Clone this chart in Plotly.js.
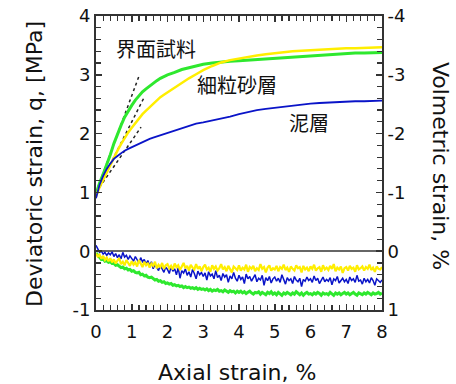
<!DOCTYPE html>
<html>
<head>
<meta charset="utf-8">
<script src="https://cdn.plot.ly/plotly-3.0.1.min.js"></script>
<style>html,body{margin:0;padding:0;background:#fff;}#chart{width:456px;height:384px;}</style>
</head>
<body>
<div id="chart"></div>
<script>
// Deviatoric strain q [MPa] vs axial strain (%)
const devX = [0, 0.05, 0.1, 0.2, 0.3, 0.4, 0.5, 0.6, 0.7, 0.8, 0.9, 1.0, 1.1, 1.2, 1.3, 1.4, 1.5, 1.6, 1.7, 1.8, 1.9, 2.0, 2.2, 2.4, 2.6, 2.8, 3.0, 3.25, 3.5, 3.75, 4.0, 4.25, 4.5, 4.75, 5.0, 5.25, 5.5, 5.75, 6.0, 6.25, 6.5, 6.75, 7.0, 7.25, 7.5, 7.75, 8.0];
const qInterface = [0.97, 1.07, 1.16, 1.31, 1.47, 1.64, 1.83, 2.00, 2.14, 2.28, 2.39, 2.48, 2.57, 2.64, 2.71, 2.76, 2.81, 2.86, 2.90, 2.94, 2.97, 3.00, 3.04, 3.09, 3.12, 3.15, 3.18, 3.20, 3.22, 3.23, 3.24, 3.25, 3.26, 3.27, 3.29, 3.30, 3.31, 3.32, 3.33, 3.34, 3.35, 3.35, 3.36, 3.37, 3.37, 3.38, 3.38];
const qFineSand = [0.93, 1.02, 1.09, 1.21, 1.34, 1.47, 1.59, 1.71, 1.82, 1.93, 2.02, 2.10, 2.18, 2.26, 2.33, 2.39, 2.45, 2.51, 2.57, 2.62, 2.66, 2.70, 2.79, 2.87, 2.94, 3.01, 3.08, 3.15, 3.21, 3.25, 3.28, 3.31, 3.33, 3.35, 3.37, 3.39, 3.40, 3.41, 3.42, 3.43, 3.44, 3.44, 3.45, 3.45, 3.46, 3.46, 3.47];
const qMud = [0.90, 1.02, 1.13, 1.28, 1.40, 1.49, 1.57, 1.62, 1.67, 1.71, 1.74, 1.77, 1.80, 1.83, 1.86, 1.89, 1.91, 1.93, 1.95, 1.97, 1.99, 2.01, 2.05, 2.09, 2.13, 2.17, 2.19, 2.22, 2.26, 2.29, 2.33, 2.37, 2.40, 2.42, 2.44, 2.46, 2.48, 2.50, 2.51, 2.52, 2.53, 2.54, 2.54, 2.55, 2.55, 2.56, 2.56];

// Volumetric strain (%), sampled every 0.05 % axial strain from 0 to 8
const volInterface = [
 0.03,0.07,0.10,0.14,0.13,0.17,0.16,0.19,0.18,0.21,
 0.21,0.24,0.23,0.26,0.28,0.27,0.30,0.29,0.32,0.31,
 0.34,0.33,0.36,0.37,0.36,0.40,0.39,0.42,0.41,0.44,
 0.45,0.44,0.47,0.49,0.48,0.51,0.50,0.53,0.52,0.55,
 0.54,0.56,0.55,0.58,0.57,0.59,0.58,0.60,0.59,0.62,
 0.60,0.62,0.61,0.63,0.62,0.64,0.62,0.65,0.63,0.65,
 0.64,0.66,0.64,0.67,0.65,0.68,0.66,0.67,0.65,0.68,
 0.67,0.69,0.66,0.68,0.70,0.67,0.69,0.68,0.71,0.68,
 0.70,0.68,0.71,0.69,0.72,0.70,0.68,0.71,0.73,0.70,
 0.71,0.69,0.73,0.70,0.72,0.74,0.70,0.72,0.69,0.73,
 0.71,0.74,0.70,0.72,0.75,0.71,0.73,0.70,0.72,0.74,
 0.71,0.73,0.69,0.72,0.74,0.71,0.75,0.72,0.70,0.73,
 0.72,0.74,0.71,0.73,0.70,0.72,0.75,0.71,0.73,0.72,
 0.74,0.70,0.72,0.75,0.71,0.73,0.71,0.74,0.72,0.70,
 0.73,0.71,0.74,0.72,0.70,0.73,0.75,0.71,0.72,0.74,
 0.71,0.73,0.70,0.72,0.74,0.71,0.73,0.72,0.70,0.73,
 0.71];
const volFineSand = [
 0.04,0.09,0.06,0.13,0.08,0.15,0.11,0.17,0.12,0.19,
 0.14,0.21,0.16,0.12,0.22,0.18,0.24,0.15,0.20,0.25,
 0.17,0.23,0.19,0.26,0.15,0.22,0.27,0.18,0.24,0.20,
 0.28,0.21,0.25,0.18,0.29,0.23,0.27,0.20,0.30,0.24,
 0.22,0.29,0.25,0.31,0.21,0.27,0.24,0.32,0.26,0.20,
 0.29,0.25,0.33,0.23,0.28,0.31,0.22,0.30,0.26,0.34,
 0.27,0.23,0.31,0.28,0.35,0.24,0.30,0.26,0.33,0.29,
 0.22,0.31,0.27,0.34,0.25,0.30,0.36,0.26,0.29,0.32,
 0.24,0.33,0.28,0.31,0.23,0.35,0.27,0.30,0.25,0.34,
 0.29,0.32,0.22,0.30,0.27,0.36,0.28,0.24,0.33,0.29,
 0.31,0.25,0.34,0.27,0.30,0.23,0.32,0.28,0.35,0.26,
 0.30,0.33,0.24,0.29,0.27,0.36,0.25,0.31,0.28,0.34,
 0.26,0.30,0.23,0.33,0.29,0.27,0.35,0.24,0.31,0.28,
 0.32,0.25,0.30,0.22,0.34,0.28,0.31,0.26,0.37,0.29,
 0.27,0.33,0.25,0.30,0.28,0.35,0.24,0.31,0.29,0.26,
 0.33,0.27,0.30,0.23,0.32,0.28,0.35,0.26,0.30,0.31,
 0.27];
const volMud = [
 -0.10,-0.03,0.02,0.00,0.05,0.02,0.07,0.03,0.06,0.01,
 0.09,0.04,0.11,0.06,0.13,0.02,0.10,0.07,0.14,0.08,
 0.12,0.17,0.09,0.15,0.20,0.11,0.18,0.14,0.22,0.16,
 0.25,0.18,0.30,0.22,0.27,0.33,0.24,0.29,0.36,0.27,
 0.31,0.38,0.26,0.34,0.30,0.40,0.28,0.46,0.33,0.37,
 0.30,0.41,0.35,0.44,0.31,0.38,0.47,0.34,0.40,0.36,
 0.43,0.37,0.49,0.35,0.42,0.39,0.47,0.33,0.45,0.41,
 0.50,0.38,0.44,0.40,0.53,0.42,0.47,0.36,0.46,0.51,
 0.41,0.48,0.44,0.55,0.39,0.47,0.43,0.51,0.45,0.40,
 0.52,0.46,0.49,0.41,0.58,0.45,0.50,0.43,0.54,0.47,
 0.44,0.51,0.46,0.53,0.40,0.49,0.56,0.45,0.50,0.47,
 0.55,0.43,0.49,0.52,0.46,0.60,0.48,0.51,0.44,0.50,
 0.47,0.53,0.42,0.50,0.46,0.55,0.49,0.44,0.52,0.48,
 0.51,0.45,0.57,0.47,0.50,0.43,0.54,0.49,0.46,0.52,
 0.48,0.55,0.44,0.50,0.47,0.53,0.41,0.51,0.49,0.56,
 0.46,0.52,0.48,0.54,0.45,0.50,0.58,0.47,0.51,0.53,
 0.49];
const volStep = 0.05;
const volX = volMud.map((_, i) => +(i * volStep).toFixed(2));

// Initial tangent lines (dotted)
const tan1X = [0, 1.21], tan1Y = [1.0, 2.99];
const tan2X = [0, 1.35], tan2Y = [1.0, 2.62];
const tan3X = [0, 1.26], tan3Y = [1.0, 2.11];

const leftTickVals = [-1, 0, 1, 2, 3, 4];
const leftTickText = ["-1", "0", "1", "2", "3", "4"];
const rightTickVals = [-4, -3, -2, -1, 0, 1];
const rightTickText = ["-4", "-3", "-2", "-1", "0", "1"];
const xTickVals = [0, 1, 2, 3, 4, 5, 6, 7, 8];
const xTickText = ["0", "1", "2", "3", "4", "5", "6", "7", "8"];

const xTitle = "Axial strain, %";
const yTitle = "Deviatoric strain, q, [MPa]";
const y2Title = "Volmetric strain, %";

const labels = [
  {text: "界面試料", x: 1.69, y: 3.44},
  {text: "細粒砂層", x: 3.95, y: 2.84},
  {text: "泥層", x: 5.97, y: 2.19}
];

const GREEN = "#2ee82e", YELLOW = "#ffee00", BLUE = "#0a14c8";
const AX = "#333333";

const traces = [
  {x: tan1X, y: tan1Y, mode: "lines", line: {color: "#222", width: 1.5, dash: "dot"}, hoverinfo: "skip"},
  {x: tan2X, y: tan2Y, mode: "lines", line: {color: "#222", width: 1.5, dash: "dot"}, hoverinfo: "skip"},
  {x: tan3X, y: tan3Y, mode: "lines", line: {color: "#222", width: 1.5, dash: "dot"}, hoverinfo: "skip"},
  {x: volX, y: volInterface, yaxis: "y2", mode: "lines", line: {color: GREEN, width: 3}},
  {x: volX, y: volMud, yaxis: "y2", mode: "lines", line: {color: BLUE, width: 1.5}},
  {x: volX, y: volFineSand, yaxis: "y2", mode: "lines", line: {color: YELLOW, width: 2.2}},
  {x: devX, y: qInterface, mode: "lines", line: {color: GREEN, width: 3}},
  {x: devX, y: qFineSand, mode: "lines", line: {color: YELLOW, width: 2.5}},
  {x: devX, y: qMud, mode: "lines", line: {color: BLUE, width: 1.8}}
];

const tickFont = {family: "DejaVu Sans, Verdana, sans-serif", size: 18, color: "#111"};
const titleFont = {family: "DejaVu Sans, Verdana, sans-serif", size: 22, color: "#111"};

const layout = {
  width: 456, height: 384,
  margin: {l: 96, r: 74, t: 16, b: 74},
  paper_bgcolor: "#fff", plot_bgcolor: "#fff",
  showlegend: false,
  font: tickFont,
  xaxis: {
    range: [0, 8], tickmode: "array", tickvals: xTickVals, ticktext: xTickText,
    ticks: "inside", ticklen: 6, tickwidth: 1.5, tickcolor: AX, ticklabelstandoff: 4,
    minor: {dtick: 0.2, ticks: "inside", ticklen: 5, tickwidth: 1.2, tickcolor: AX},
    showline: true, linecolor: AX, linewidth: 2, mirror: "ticks",
    showgrid: false, zeroline: false, tickfont: tickFont
  },
  yaxis: {
    range: [-1, 4], tickmode: "array", tickvals: leftTickVals, ticktext: leftTickText,
    ticks: "inside", ticklen: 6, tickwidth: 1.5, tickcolor: AX,
    minor: {dtick: 0.2, ticks: "inside", ticklen: 5, tickwidth: 1.2, tickcolor: AX},
    showline: true, linecolor: AX, linewidth: 2,
    showgrid: false, zeroline: true, zerolinecolor: "#666", zerolinewidth: 2,
    tickfont: tickFont
  },
  yaxis2: {
    overlaying: "y", side: "right", range: [1, -4],
    tickmode: "array", tickvals: rightTickVals, ticktext: rightTickText,
    ticks: "inside", ticklen: 6, tickwidth: 1.5, tickcolor: AX,
    minor: {dtick: 0.2, ticks: "inside", ticklen: 5, tickwidth: 1.2, tickcolor: AX},
    showline: true, linecolor: AX, linewidth: 2,
    showgrid: false, zeroline: false, tickfont: tickFont
  },
  annotations: labels.map(l => ({
    text: l.text, x: l.x, y: l.y, xref: "x", yref: "y", showarrow: false,
    font: {family: "Noto Sans CJK JP", size: 20, color: "#111"}
  })).concat([
    {text: xTitle, xref: "paper", yref: "paper", x: 0.493, y: -0.214,
     showarrow: false, font: titleFont, xanchor: "center", yanchor: "middle"},
    {text: yTitle, xref: "paper", yref: "paper", x: -0.213, y: 0.497, textangle: -90,
     showarrow: false, font: titleFont, xanchor: "center", yanchor: "middle"},
    {text: y2Title, xref: "paper", yref: "paper", x: 1.203, y: 0.49, textangle: 90,
     showarrow: false, font: titleFont, xanchor: "center", yanchor: "middle"}
  ])
};

Plotly.newPlot("chart", traces, layout, {displayModeBar: false, staticPlot: true});
</script>
</body>
</html>
